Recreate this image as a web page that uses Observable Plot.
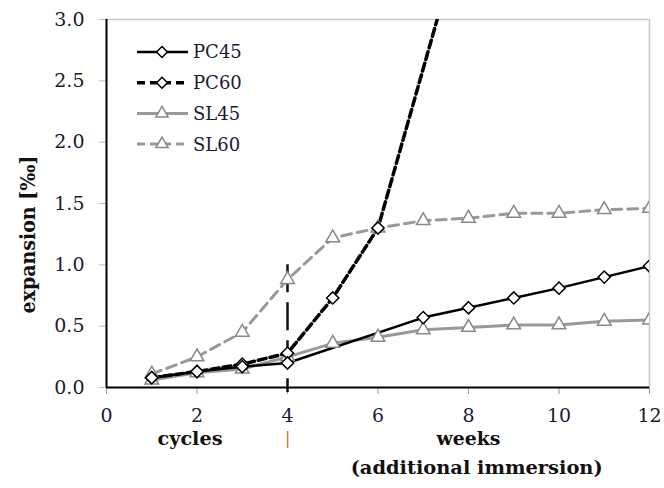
<!DOCTYPE html>
<html><head><meta charset="utf-8">
<script src="https://cdn.jsdelivr.net/npm/d3@7"></script>
<script src="https://cdn.jsdelivr.net/npm/@observablehq/plot@0.6"></script>
<style>
body{margin:0;background:#fff;}
#wrap{position:relative;width:664px;height:488px;overflow:hidden;}
#legend{position:absolute;left:0;top:0;}
</style></head><body><div id="wrap"></div>
<script>
// ---- data ----
const xPC45 = [1, 2, 3, 4, 7, 8, 9, 10, 11, 12];
const yPC45 = [0.08, 0.13, 0.17, 0.20, 0.57, 0.65, 0.73, 0.81, 0.90, 0.99];
const xPC60 = [1, 2, 3, 4, 5, 6, 8];
const yPC60 = [0.08, 0.13, 0.19, 0.28, 0.73, 1.30, 3.90];
const xSL = [1, 2, 3, 4, 5, 6, 7, 8, 9, 10, 11, 12];
const ySL45 = [0.06, 0.12, 0.15, 0.25, 0.36, 0.41, 0.47, 0.49, 0.51, 0.51, 0.54, 0.55];
const ySL60 = [0.11, 0.25, 0.45, 0.88, 1.22, 1.30, 1.36, 1.38, 1.42, 1.42, 1.45, 1.46];
const xTicks = [0, 2, 4, 6, 8, 10, 12];
const yTicks = [0, 0.5, 1.0, 1.5, 2.0, 2.5, 3.0];
const seriesNames = ["PC45", "PC60", "SL45", "SL60"];
const transitionAt = 4;            // cycles -> weeks
const dividerRange = [1.0, -0.04]; // vertical dashed marker extent
const row1Labels = [{text: "cycles", x: 1.845}, {text: "weeks", x: 8}];
const separatorLabel = [{text: "|", x: 4}];
const row2Labels = [{text: "(additional immersion)", x: 8.18}];
const yLabel = "expansion [‰]";

// ---- styles ----
const styles = {
  PC45: {stroke: "#000", width: 2.5, dash: null, symbol: "diamond2", r: 5.5, mstroke: "#000"},
  PC60: {stroke: "#000", width: 3.5, dash: "8,4", symbol: "diamond2", r: 5.5, mstroke: "#000"},
  SL45: {stroke: "#999", width: 3, dash: null, symbol: "triangle2", r: 6.5, mstroke: "#888"},
  SL60: {stroke: "#999", width: 3, dash: "10,6", symbol: "triangle2", r: 6.5, mstroke: "#888"}
};
const textLengths = {"cycles": 65, "weeks": 64, "(additional immersion)": 252, [yLabel]: 158};

const mk = (xs, ys) => xs.map((x, i) => ({x, y: ys[i]}));
const data = {
  PC45: mk(xPC45, yPC45),
  PC60: mk(xPC60, yPC60),
  SL45: mk(xSL, ySL45),
  SL60: mk(xSL, ySL60)
};

const lineMark = name => Plot.line(data[name], {
  x: "x", y: "y", stroke: styles[name].stroke, strokeWidth: styles[name].width,
  strokeDasharray: styles[name].dash, clip: true
});
const dotMark = name => Plot.dot(data[name], {
  x: "x", y: "y", symbol: styles[name].symbol, r: styles[name].r,
  fill: "#fff", stroke: styles[name].mstroke, strokeWidth: 1.5, clip: true
});

const chart = Plot.plot({
  width: 664, height: 488,
  marginLeft: 106, marginRight: 15, marginTop: 19, marginBottom: 101,
  style: {fontFamily: "'DejaVu Serif', serif", fontSize: "19px", color: "#111", background: "#fff"},
  x: {domain: [0, 12]},
  y: {domain: [0, 3]},
  marks: [
    Plot.ruleY([3], {stroke: "#c8c8c8", strokeWidth: 1.5}),
    Plot.ruleX([12], {stroke: "#c8c8c8", strokeWidth: 1.5}),
    Plot.axisX({ticks: xTicks, tickSize: 7, tickPadding: 14, stroke: "#999", fill: "#1a1a33", label: null}),
    Plot.axisY({ticks: yTicks, tickSize: 7, tickPadding: 15, stroke: "#bbb", fill: "#1a1a33", label: null, tickFormat: d3.format(".1f")}),
    Plot.ruleX([transitionAt], {y1: dividerRange[0], y2: dividerRange[1], stroke: "#111", strokeWidth: 2.5, strokeDasharray: "28,10"}),
    lineMark("SL60"), lineMark("SL45"), lineMark("PC60"), lineMark("PC45"),
    Plot.ruleX([0], {stroke: "#000", strokeWidth: 2}),
    Plot.ruleY([0], {stroke: "#000", strokeWidth: 2}),
    dotMark("SL60"), dotMark("SL45"), dotMark("PC60"), dotMark("PC45"),
    Plot.text(row1Labels, {x: "x", text: "text", frameAnchor: "bottom", dy: 57, fontWeight: "bold", fontSize: 19, fill: "#111"}),
    Plot.text(separatorLabel, {x: "x", text: "text", frameAnchor: "bottom", dy: 56, fontSize: 17, fill: "#b07a50"}),
    Plot.text(row2Labels, {x: "x", text: "text", frameAnchor: "bottom", dy: 86, fontWeight: "bold", fontSize: 19, fill: "#111"}),
    Plot.text([yLabel], {frameAnchor: "left", textAnchor: "middle", dx: -78, dy: 31, rotate: -90, fontWeight: "bold", fontSize: 20, fill: "#111"})
  ]
});

// stretch wide serif labels to the reference's widths
d3.select(chart).selectAll("text").each(function() {
  const t = this.textContent;
  if (textLengths[t] && this.children.length === 0) {
    this.setAttribute("textLength", textLengths[t]);
    this.setAttribute("lengthAdjust", "spacingAndGlyphs");
  }
});

const wrap = document.getElementById("wrap");
wrap.appendChild(chart);

// ---- legend (inside plot, top-left) ----
const leg = d3.select(wrap).append("svg").attr("id", "legend").attr("width", 300).attr("height", 170);
seriesNames.forEach((name, i) => {
  const s = styles[name];
  const cy = 52 + i * 30.7;
  const g = leg.append("g");
  g.append("line").attr("x1", 137).attr("x2", 188).attr("y1", cy).attr("y2", cy)
    .attr("stroke", s.stroke).attr("stroke-width", s.width)
    .attr("stroke-dasharray", s.dash ? "8,5" : null);
  const sym = s.symbol === "diamond2" ? d3.symbolDiamond2 : d3.symbolTriangle2;
  g.append("path").attr("d", d3.symbol(sym, Math.PI * s.r * s.r * 0.8)())
    .attr("transform", `translate(162,${cy})`)
    .attr("fill", "#fff").attr("stroke", s.mstroke).attr("stroke-width", 1.5);
  g.append("text").attr("x", 193).attr("y", cy).attr("dy", "0.36em")
    .attr("font-family", "'DejaVu Serif', serif").attr("font-size", 18).attr("fill", "#1a1a33").text(name);
});
</script>
</body></html>
